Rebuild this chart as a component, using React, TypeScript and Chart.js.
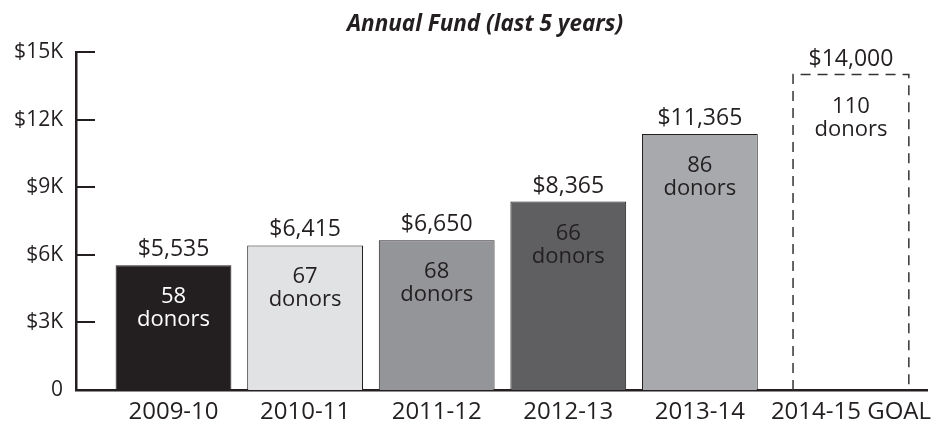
import React, { useEffect, useRef } from "react";
import { Chart, registerables } from "chart.js";

Chart.register(...registerables);

const categories = ["2009-10", "2010-11", "2011-12", "2012-13", "2013-14"];
const amounts = [5535, 6415, 6650, 8365, 11365];
const donors = [58, 67, 68, 66, 86];
const barColors = ["#231f20", "#e1e2e3", "#939598", "#5f5f61", "#a7a9ac"];
const donorTextColors = ["#ffffff", "#231f20", "#231f20", "#231f20", "#231f20"];

const goalLabel = "2014-15 GOAL";
const goalAmount = 14000;
const goalDonors = 110;

const yTicks = [0, 3000, 6000, 9000, 12000, 15000];
const titleText = "Annual Fund (last 5 years)";

const FONT = '"Open Sans", "Noto Sans", sans-serif';
const INK = "#231f20";
const GOAL_OFFSET = 0.148;

export default function App() {
  const ref = useRef<HTMLCanvasElement | null>(null);

  useEffect(() => {
    const canvas = ref.current;
    if (!canvas) return;
    const goalX = categories.length + GOAL_OFFSET;
    const tickPositions = [...categories.map((_, i) => i), goalX];
    const tickLabels = [...categories, goalLabel];

    const labelPlugin = {
      id: "labels",
      afterDatasetsDraw(chart: any) {
        const ctx = chart.ctx;
        const ys = chart.scales.y;
        ctx.save();
        // y tick marks inside the plot
        ctx.strokeStyle = INK;
        ctx.lineWidth = 2;
        const ax = chart.chartArea.left;
        yTicks.forEach((v) => {
          if (v === 0) return;
          const y = Math.round(ys.getPixelForValue(v));
          ctx.beginPath();
          ctx.moveTo(ax, y);
          ctx.lineTo(ax + 19, y);
          ctx.stroke();
        });

        // goal dashed outline
        const goalMeta = chart.getDatasetMeta(1);
        const ge = goalMeta.data[0];
        if (ge) {
          const p = ge.getProps(["x", "y", "base", "width"], true);
          const l = p.x - p.width / 2;
          const r = p.x + p.width / 2;
          ctx.setLineDash([10, 7]);
          ctx.lineWidth = 1.5;
          ctx.strokeStyle = "#333333";
          ctx.beginPath();
          ctx.moveTo(l, p.base);
          ctx.lineTo(l, p.y);
          ctx.lineTo(r, p.y);
          ctx.lineTo(r, p.base);
          ctx.stroke();
          ctx.setLineDash([]);
        }

        const drawLabels = (el: any, amount: number, count: number, color: string) => {
          const p = el.getProps(["x", "y"], true);
          ctx.textAlign = "center";
          ctx.textBaseline = "alphabetic";
          ctx.fillStyle = INK;
          ctx.font = `23px ${FONT}`;
          ctx.fillText("$" + amount.toLocaleString("en-US"), p.x, p.y - 9);
          ctx.fillStyle = color;
          ctx.font = `22px ${FONT}`;
          ctx.fillText(String(count), p.x, p.y + 38);
          ctx.fillText("donors", p.x, p.y + 61);
        };
        chart.getDatasetMeta(0).data.forEach((el: any, i: number) => {
          drawLabels(el, amounts[i], donors[i], donorTextColors[i]);
        });
        if (ge) drawLabels(ge, goalAmount, goalDonors, INK);

        // title
        ctx.fillStyle = INK;
        ctx.font = `italic bold 22.5px ${FONT}`;
        ctx.textAlign = "center";
        ctx.fillText(titleText, 485, 31);
        ctx.restore();
      },
    };

    const chart = new Chart(canvas, {
      type: "bar",
      data: {
        datasets: [
          {
            data: amounts.map((v, i) => ({ x: i, y: v })),
            backgroundColor: barColors,
            borderColor: INK,
            borderWidth: 1,
            grouped: false,
            barPercentage: 0.88,
            categoryPercentage: 1,
          } as any,
          {
            data: [{ x: goalX, y: goalAmount }],
            backgroundColor: "rgba(0,0,0,0)",
            borderWidth: 0,
            grouped: false,
            barPercentage: 0.88,
            categoryPercentage: 1,
          } as any,
        ],
      },
      options: {
        responsive: false,
        animation: false,
        devicePixelRatio: 1,
        layout: { padding: { top: 52, right: 20, left: 0, bottom: 0 } },
        plugins: {
          legend: { display: false },
          tooltip: { enabled: false },
          title: { display: false },
        },
        scales: {
          x: {
            type: "linear",
            offset: false,
            min: -0.741,
            max: 5.726,
            grid: { display: false, drawTicks: false, offset: false },
            border: { display: true, color: INK, width: 2.5 },
            afterBuildTicks: (scale: any) => {
              scale.ticks = tickPositions.map((v) => ({ value: v }));
            },
            afterFit: (scale: any) => {
              scale.height = 36;
            },
            ticks: {
              autoSkip: false,
              maxRotation: 0,
              padding: 8,
              color: INK,
              font: { family: FONT, size: 24 },
              callback: (_v: any, i: number) => tickLabels[i],
            },
          } as any,
          y: {
            min: 0,
            max: 15000,
            grid: { display: false, drawTicks: false },
            border: { display: true, color: INK, width: 2.5 },
            afterBuildTicks: (scale: any) => {
              scale.ticks = yTicks.map((v) => ({ value: v }));
            },
            afterFit: (scale: any) => {
              scale.width = 76;
            },
            ticks: {
              padding: 13,
              color: INK,
              font: { family: FONT, size: 21 },
              callback: (v: any) => (v === 0 ? "0" : "$" + v / 1000 + "K"),
            },
          } as any,
        },
      },
      plugins: [labelPlugin],
    });
    return () => chart.destroy();
  }, []);

  return (
    <div style={{ position: "fixed", left: 0, top: 0, width: 947, height: 426, background: "#fff" }}>
      <canvas ref={ref} width={947} height={426} />
    </div>
  );
}
